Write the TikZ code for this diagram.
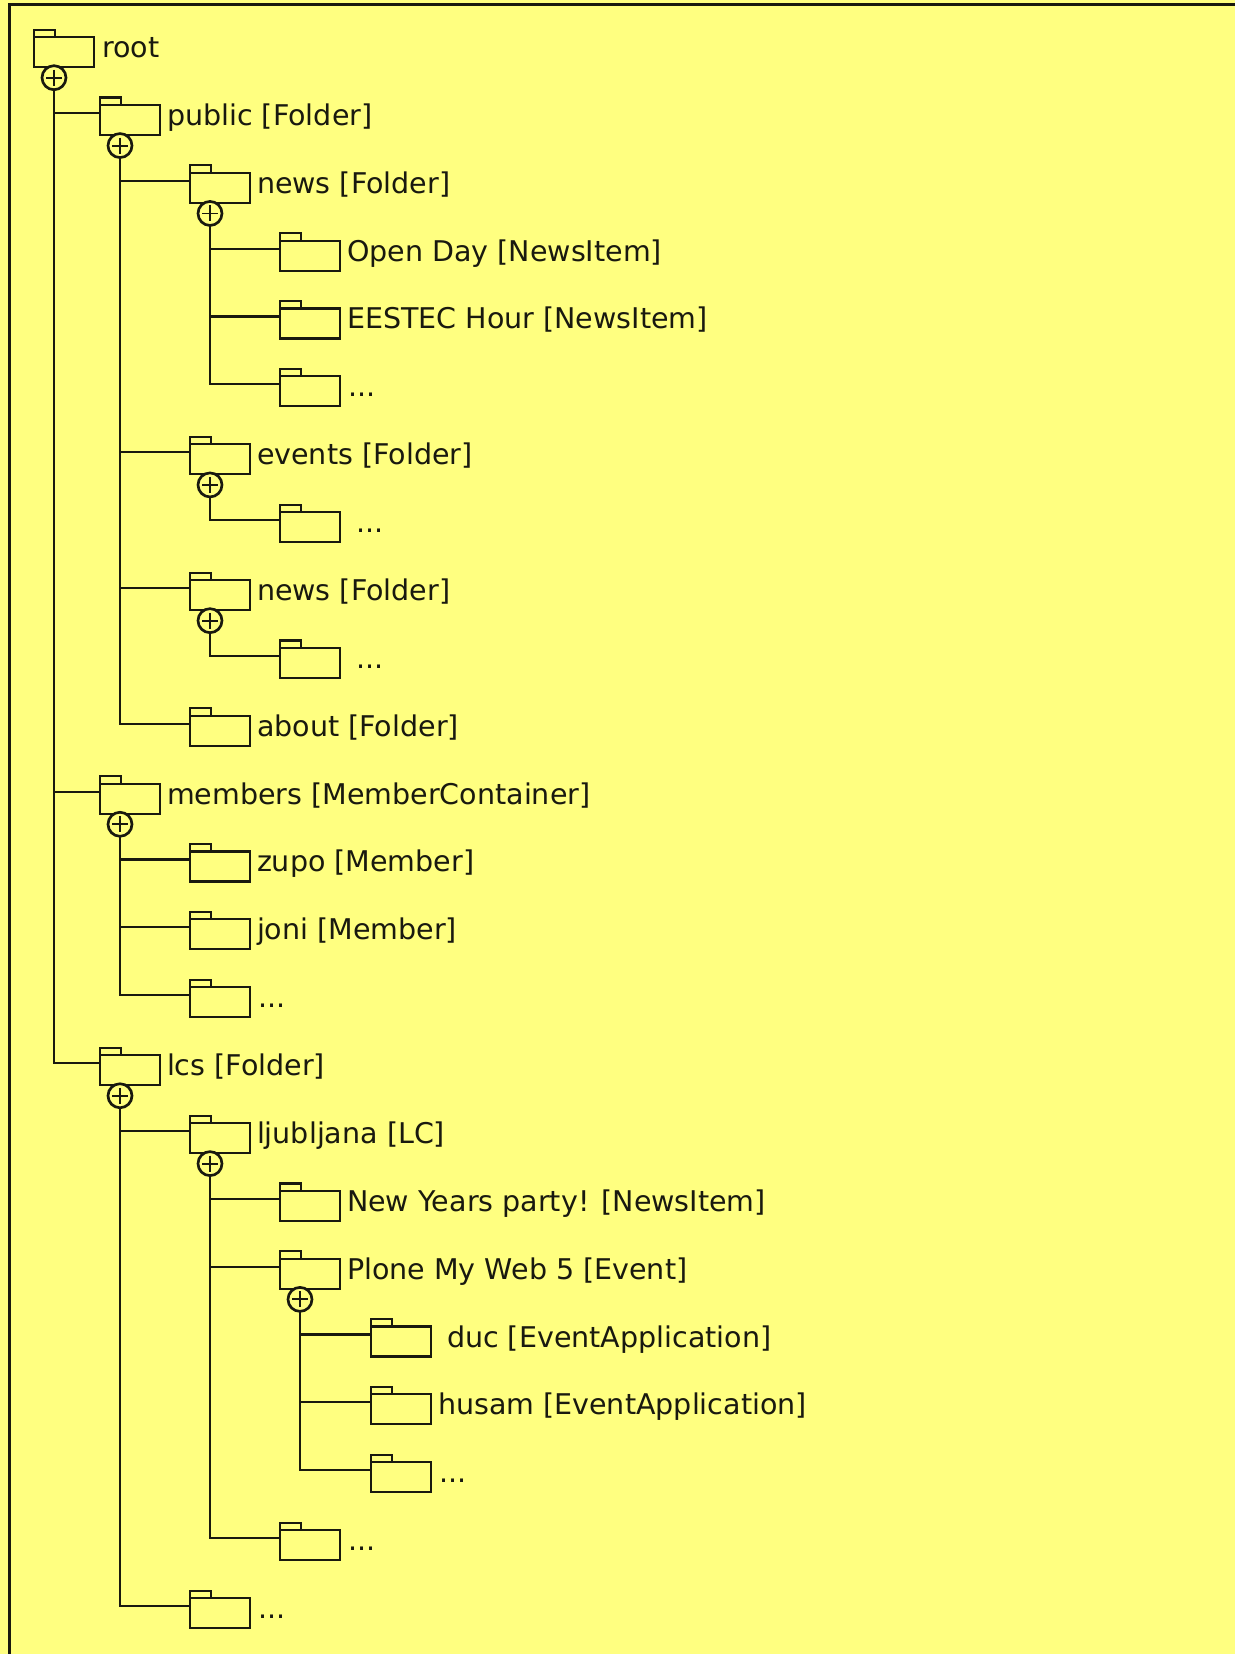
\documentclass[tikz,border=0pt]{standalone}
\usepackage{fontspec}
\setmainfont{DejaVu Sans}
\usetikzlibrary{calc}
\definecolor{notebg}{RGB}{255,255,128}
\definecolor{ink}{RGB}{25,25,15}
\tikzset{
  x=0.75pt,y=-0.75pt,
  body/.style={draw=ink,fill=notebg,minimum width=45pt,minimum height=22.5pt,inner sep=0pt,outer sep=0pt,line width=1.6pt},
  tabbox/.style={draw=ink,fill=notebg,minimum width=15.5pt,minimum height=5.5pt,inner sep=0pt,outer sep=0pt,line width=1.6pt},
  lab/.style={anchor=base west,inner sep=0pt,outer sep=0pt,text=ink,font=\fontsize{21.4pt}{24pt}\selectfont},
  plusc/.style={circle,draw=ink,fill=notebg,minimum size=18pt,inner sep=0pt,outer sep=0pt,line width=2pt},
  conn/.style={draw=ink,line width=1.6pt,line join=miter},
  pluss/.style={draw=ink,line width=1.4pt},
  frameline/.style={draw=ink,line width=1.6pt}
}
% name, level x, row, label x offset, text
\newcommand{\rowy}[1]{37+67.87*#1}
\newcommand{\folder}[5]{%
  \node[body,anchor=north west] (#1) at (#2,{\rowy{#3}}) {};
  \node[tabbox,anchor=south west] (#1t) at (#1.north west) {};
  \coordinate (#1i) at ($(#1.north west)+(0,8)$);
  \node[lab] (#1l) at ($(#1.north east)+(#4+1,20.5)$) {#5};
}
\newcommand{\plus}[1]{%
  \node[plusc] (#1c) at ($(#1.south west)+(20,10.7)$) {};
  \draw[pluss] ($(#1c.center)+(-8,0)$) -- ($(#1c.center)+(8,0)$);
  \draw[pluss] ($(#1c.center)+(0,-8)$) -- ($(#1c.center)+(0,8)$);
}
\begin{document}
\begin{tikzpicture}
\useasboundingbox (0,0) rectangle (1235,1654);
\fill[notebg] (0,0) rectangle (1235,1654);
\coordinate (tl) at (9.5,4.5);
\coordinate (tr) at (1235,4.5);
\coordinate (bl) at (9.5,1654);
\draw[frameline] (bl) -- (tl) -- (tr);
% nodes
\folder{root}{34}{0}{7}{root}
\folder{public}{100}{1}{6}{public [Folder]}
\folder{newsa}{190}{2}{6}{news [Folder]}
\folder{open}{280}{3}{6}{Open Day [NewsItem]}
\folder{eestec}{280}{4}{6}{EESTEC Hour [NewsItem]}
\folder{dotsa}{280}{5}{7}{...}
\folder{events}{190}{6}{6}{events [Folder]}
\folder{dotsb}{280}{7}{15}{...}
\folder{newsb}{190}{8}{6}{news [Folder]}
\folder{dotsc}{280}{9}{15}{...}
\folder{about}{190}{10}{6}{about [Folder]}
\folder{members}{100}{11}{6}{members [MemberContainer]}
\folder{zupo}{190}{12}{6}{zupo [Member]}
\folder{joni}{190}{13}{6}{joni [Member]}
\folder{dotsd}{190}{14}{7}{...}
\folder{lcs}{100}{15}{6}{lcs [Folder]}
\folder{ljub}{190}{16}{6}{ljubljana [LC]}
\folder{newy}{280}{17}{6}{New Years party! [NewsItem]}
\folder{plone}{280}{18}{6}{Plone My Web 5 [Event]}
\folder{duc}{371}{19}{15}{duc [EventApplication]}
\folder{husam}{371}{20}{6}{husam [EventApplication]}
\folder{dotse}{371}{21}{7}{...}
\folder{dotsf}{280}{22}{7}{...}
\folder{dotsg}{190}{23}{7}{...}
\foreach \n in {root,public,newsa,events,newsb,members,lcs,ljub,plone}{\plus{\n}}
% connectors
\foreach \p/\c in {root/public,root/members,root/lcs,
  public/newsa,public/events,public/newsb,public/about,
  newsa/open,newsa/eestec,newsa/dotsa,events/dotsb,newsb/dotsc,
  members/zupo,members/joni,members/dotsd,
  lcs/ljub,lcs/dotsg,ljub/newy,ljub/plone,ljub/dotsf,
  plone/duc,plone/husam,plone/dotse}{
  \draw[conn] (\p c.south) |- (\c i);
}
\end{tikzpicture}
\end{document}
